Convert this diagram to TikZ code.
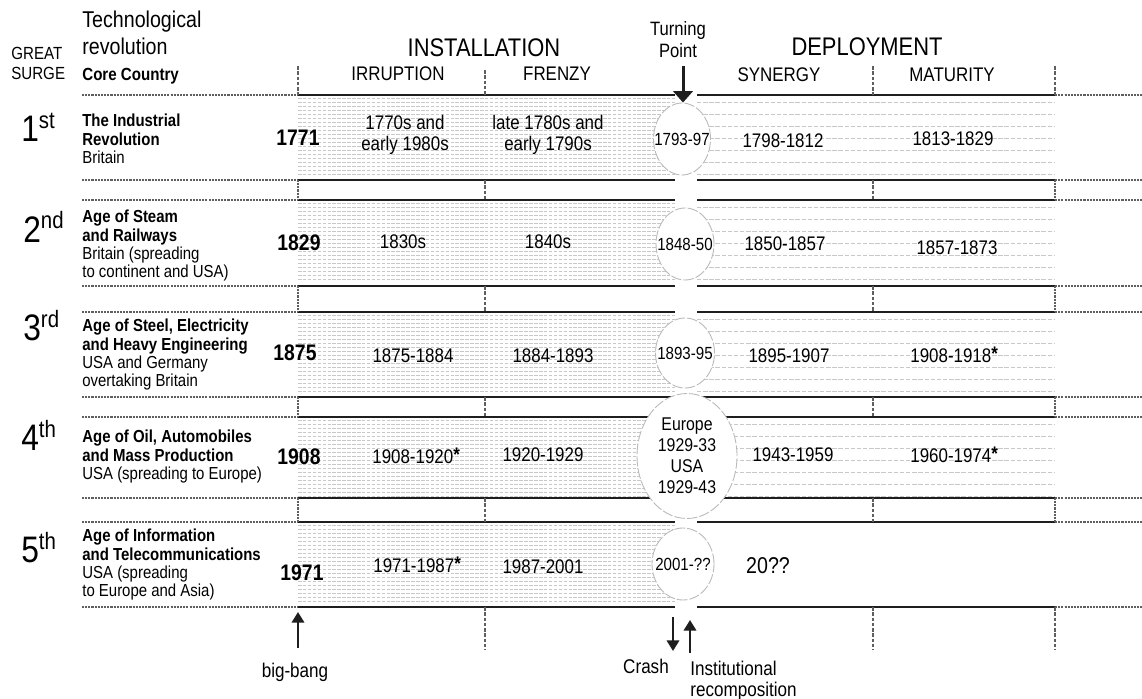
\documentclass[tikz,border=0pt]{standalone}
\usepackage{fontspec}
\setmainfont{Liberation Sans}[FakeStretch=0.86]
\usepackage{tikz}
\usetikzlibrary{shapes.geometric, arrows.meta, positioning, calc}
\definecolor{inkblack}{RGB}{30,30,30}
\definecolor{rulegray}{RGB}{95,95,95}
\definecolor{hatchgray}{RGB}{200,200,200}
\definecolor{ringgray}{RGB}{185,185,185}
\newcommand{\fsz}[2]{\fontsize{#1}{#2}\selectfont}
\newcommand{\surge}[2]{{\fsz{21}{21}#1}\raisebox{7.4pt}{\fsz{13.5}{13.5}#2}}
\newcommand{\fnstar}{\raisebox{1.5pt}{\bfseries *}}

\begin{document}
\begin{tikzpicture}[x=0.02cm, y=-0.02cm, every node/.style={inner sep=0pt},
  band/.style={inkblack, line width=1.7pt},
  rule/.style={rulegray, line width=0.9pt, dash pattern=on 1.2pt off 0.6pt},
  tick/.style={rulegray, line width=0.7pt, dash pattern=on 2pt off 1pt},
  hatch/.style={hatchgray, line width=0.3pt, dash pattern=on 2pt off 0.8pt},
  sparse/.style={hatchgray, line width=0.35pt, dash pattern=on 2.5pt off 1pt},
  ring/.style={ellipse, draw=ringgray, fill=white, line width=0.5pt, dash pattern=on 6pt off 1.2pt},
  head/.style={font=\fsz{14.5}{16}, anchor=base},
  phase/.style={font=\fsz{11.2}{13}, anchor=base},
  title/.style={font=\fsz{9.9}{10.4}, align=left, anchor=north west},
  yr/.style={font=\fsz{11.2}{11.6}, align=center},
  startyr/.style={font=\bfseries\fsz{12.8}{14}},
  ringtext/.style={font=\fsz{10}{12}, align=center},
  note/.style={font=\fsz{11.3}{12}},
  tparrow/.style={inkblack, line width=1.7pt, -{Triangle[width=11pt,length=6.5pt]}},
  arr/.style={inkblack, line width=1.3pt, -{Triangle[width=7pt,length=6pt]}}]
  \useasboundingbox (0,0) rectangle (1142,699);
  \fill[white] (0,0) rectangle (1142,699);
  % shading of the bands
  \foreach \t in {95,200,312,417,522} {
    \foreach \k in {0,...,19}
      \draw[hatch] (298,\t+3+4*\k) -- (675,\t+3+4*\k);
  }
  \foreach \t in {95,200,312,417} {
    \foreach \k in {0,...,6}
      \draw[sparse] (697,\t+7+12*\k) -- (1055,\t+7+12*\k);
  }
  % band edges
  \foreach \t/\b in {95/180,200/286,312/397,417/498,522/607} {
    \draw[band] (298,\t) -- (675,\t) (697,\t) -- (1055,\t);
    \draw[band] (298,\b) -- (675,\b) (697,\b) -- (1055,\b);
    \draw[rule] (82,\t) -- (298,\t) (82,\b) -- (298,\b);
    \draw[rule] (1055,\t) -- (1142,\t) (1055,\b) -- (1142,\b);
  }
  \foreach \b/\t in {180/200,286/312,397/417,498/522} {
    \draw[rule] (298,\b) -- (298,\t) (1055,\b) -- (1055,\t);
    \draw[tick] (485,\b) -- (485,\t) (873,\b) -- (873,\t);
  }
  \draw[tick] (298,66) -- (298,95) (485,70) -- (485,95) (873,66) -- (873,95) (1055,66) -- (1055,95);
  \draw[tick] (485,607) -- (485,650) (873,607) -- (873,650) (1055,607) -- (1055,650);
  % turning point rings
  \node[ring, minimum width=1.14cm, minimum height=1.44cm] (tp1) at (682,139) {};
  \node[ring, minimum width=1.16cm, minimum height=1.44cm] (tp2) at (685,244) {};
  \node[ring, minimum width=1.18cm, minimum height=1.40cm] (tp3) at (685,353) {};
  \node[ring, minimum width=2.0cm, minimum height=2.5cm] (tp4) at (687,456) {};
  \node[ring, minimum width=1.24cm, minimum height=1.44cm] (tp5) at (683,564) {};
  \node[ringtext] (tp1txt) at (tp1) {1793-97};
  \node[ringtext] (tp2txt) at (tp2) {1848-50};
  \node[ringtext] (tp3txt) at (tp3) {1893-95};
  \node[ringtext, font=\fsz{10.5}{12}] (tp4txt) at (tp4) {Europe\\1929-33\\USA\\1929-43};
  \node[ringtext] (tp5txt) at (tp5) {2001-??};
  % header
  \node[font=\fsz{13}{15}, anchor=base west] (techrev) at (82,28) {Technological};
  \node[font=\fsz{13}{15}, anchor=base west] (techrev2) at (82,55) {revolution};
  \node[font=\bfseries\fsz{10}{12}, anchor=base west] (core) at (82,81) {Core Country};
  \node[font=\fsz{10}{12}, anchor=base west] (great) at (11,60) {GREAT};
  \node[font=\fsz{10}{12}, anchor=base west] (surge) at (11,80) {SURGE};
  \node[head] (install) at (484,57) {INSTALLATION};
  \node[head] (deploy) at (867,56) {DEPLOYMENT};
  \node[phase] (irrupt) at (398,81) {IRRUPTION};
  \node[phase] (frenzy) at (557,81) {FRENZY};
  \node[phase] (synergy) at (779,82) {SYNERGY};
  \node[phase] (maturity) at (952,82) {MATURITY};
  \node[font=\fsz{11}{12.5}, align=center, anchor=north] (turning) at (678,21) {Turning\\Point};
  % surges
  \node[anchor=base west] (s1) at (21,142) {\surge{1}{st}};
  \node[anchor=base west] (s2) at (23,242) {\surge{2}{nd}};
  \node[anchor=base west] (s3) at (23,340) {\surge{3}{rd}};
  \node[anchor=base west] (s4) at (21,450) {\surge{4}{th}};
  \node[anchor=base west] (s5) at (21,562) {\surge{5}{th}};
  \node[title] (rev1) at (82,114) {\textbf{The Industrial}\\\textbf{Revolution}\\Britain};
  \node[title] (rev2) at (82,210) {\textbf{Age of Steam}\\\textbf{and Railways}\\Britain (spreading\\to continent and USA)};
  \node[title] (rev3) at (82,319) {\textbf{Age of Steel, Electricity}\\\textbf{and Heavy Engineering}\\USA and Germany\\overtaking Britain};
  \node[title] (rev4) at (82,430) {\textbf{Age of Oil, Automobiles}\\\textbf{and Mass Production}\\USA (spreading to Europe)};
  \node[title] (rev5) at (82,529) {\textbf{Age of Information}\\\textbf{and Telecommunications}\\USA (spreading\\to Europe and Asia)};
  \node[startyr] (big1) at (298,138) {1771};
  \node[startyr] (big2) at (299,243) {1829};
  \node[startyr] (big3) at (295,353) {1875};
  \node[startyr] (big4) at (299,457) {1908};
  \node[startyr] (big5) at (302,573) {1971};
  % phase dates
  \node[yr] (irr1) at (405,135) {1770s and\\early 1980s};
  \node[yr] (fre1) at (548,135) {late 1780s and\\early 1790s};
  \node[yr] (syn1) at (783,141) {1798-1812};
  \node[yr] (mat1) at (953,139) {1813-1829};
  \node[yr] (irr2) at (403,242) {1830s};
  \node[yr] (fre2) at (548,242) {1840s};
  \node[yr] (syn2) at (785,244) {1850-1857};
  \node[yr] (mat2) at (957,248) {1857-1873};
  \node[yr] (irr3) at (413,356) {1875-1884};
  \node[yr] (fre3) at (553,356) {1884-1893};
  \node[yr] (syn3) at (789,356) {1895-1907};
  \node[yr, anchor=west] (mat3) at (910,355) {1908-1918\fnstar};
  \node[yr, anchor=west] (irr4) at (372,456) {1908-1920\fnstar};
  \node[yr] (fre4) at (543,455) {1920-1929};
  \node[yr] (syn4) at (793,455) {1943-1959};
  \node[yr, anchor=west] (mat4) at (910,455) {1960-1974\fnstar};
  \node[yr, anchor=west] (irr5) at (373,565) {1971-1987\fnstar};
  \node[yr] (fre5) at (543,567) {1987-2001};
  \node[font=\fsz{13}{14}] (syn5) at (768,566) {20??};
  % arrows and notes
  \coordinate (tptail) at (683,66);
  \draw[tparrow] (tptail) -- (tptail |- tp1.north);
  \node[note, anchor=base] (bigbang) at (295,677) {big-bang};
  \node[note, anchor=base] (crash) at (646,673) {Crash};
  \node[note, align=left, anchor=north west] (recomp) at (690,661) {Institutional\\recomposition};
  \coordinate (bbtail) at (298,648);
  \coordinate (bbtip) at (298,612);
  \coordinate (crtail) at (673,617);
  \coordinate (crtip) at (673,651);
  \coordinate (rctail) at (690,653);
  \coordinate (rctip) at (690,620);
  \draw[arr] (bbtail) -- (bbtip);
  \draw[arr] (crtail) -- (crtip);
  \draw[arr] (rctail) -- (rctip);
\end{tikzpicture}
\end{document}
